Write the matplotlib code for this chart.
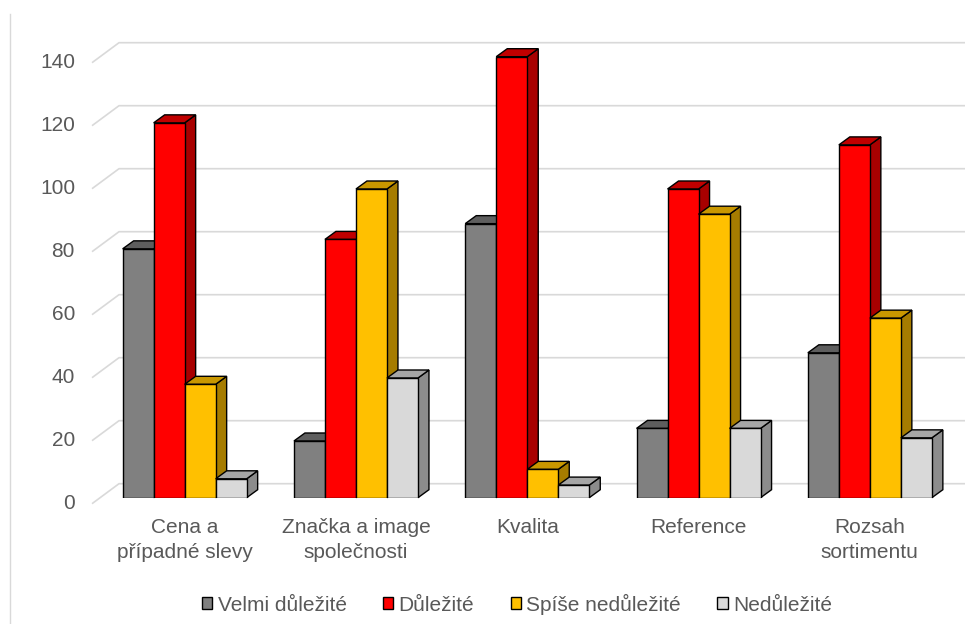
import matplotlib
matplotlib.use("Agg")
import matplotlib.pyplot as plt
from matplotlib.patches import Polygon, Patch
from matplotlib.lines import Line2D

# ---- data -------------------------------------------------------------
categories = ["Cena a\npřípadné slevy", "Značka a image\nspolečnosti", "Kvalita",
              "Reference", "Rozsah\nsortimentu"]
series_names = ["Velmi důležité", "Důležité", "Spíše nedůležité", "Nedůležité"]
velmi_dulezite = [79, 18, 87, 22, 46]
dulezite = [119, 82, 140, 98, 112]
spise_nedulezite = [36, 98, 9, 90, 57]
nedulezite = [6, 38, 4, 22, 19]
y_ticks = [0, 20, 40, 60, 80, 100, 120, 140]

series_values = [velmi_dulezite, dulezite, spise_nedulezite, nedulezite]

# ---- style ------------------------------------------------------------
front_colors = ["#808080", "#FF0000", "#FFC000", "#D9D9D9"]
top_colors = ["#5E5E5E", "#C00000", "#C99700", "#A6A6A6"]
side_colors = ["#595959", "#A80000", "#A67C00", "#8C8C8C"]
text_color = "#595959"
grid_color = "#D9D9D9"
font_size = 15

plt.rcParams['font.family'] = ['Liberation Sans', 'DejaVu Sans']

W, H, DPI = 965, 624, 100
fig = plt.figure(figsize=(W / DPI, H / DPI), dpi=DPI)
fig.patch.set_facecolor("white")

# axes = front plane of the bars (pixel geometry, measured from top-left)
left_px, right_px = 99.0, 955.5
bottom_px, top_px = 497.7, 56.7
ax = fig.add_axes([left_px / W, 1 - bottom_px / H,
                   (right_px - left_px) / W, (bottom_px - top_px) / H])
n_cat = len(categories)
ax.set_xlim(-0.5, n_cat - 0.5)
ax.set_ylim(0, 140)
for s in ax.spines.values():
    s.set_visible(False)
ax.set_yticks([])

px_x = (right_px - left_px) / n_cat      # pixels per category unit
px_y = (bottom_px - top_px) / 140.0      # pixels per value unit


def dx(p):
    return p / px_x


def dy(p):
    return p / px_y


# ---- back wall grid with floor diagonals --------------------------------
x_left = -0.5
x_right = n_cat - 0.5
for v in y_ticks:
    xs = [x_left + dx(-7), x_left + dx(20), x_right + dx(40)]
    ys = [v + dy(-6), v + dy(14), v + dy(14)]
    ax.plot(xs, ys, color=grid_color, lw=1.2, clip_on=False, zorder=0,
            solid_capstyle="butt")
    ax.text(x_left + dx(-24), v + dy(-6), str(v), ha="right", va="center",
            color=text_color, fontsize=font_size)

# ---- 3D-style columns ---------------------------------------------------
bar_w = 0.181
depth_x, depth_y = dx(11), dy(8)
x_pos = list(range(n_cat))
for k, vals in enumerate(series_values):
    offs = (k - 1.5) * bar_w
    xk = [x + offs for x in x_pos]
    ax.bar(xk, vals, width=bar_w, color=front_colors[k], edgecolor="black",
           linewidth=1.0, zorder=3 + 2 * k)
    for xc, v in zip(xk, vals):
        x0, x1 = xc - bar_w / 2, xc + bar_w / 2
        side = Polygon([(x1, 0), (x1 + depth_x, depth_y),
                        (x1 + depth_x, v + depth_y), (x1, v)],
                       closed=True, facecolor=side_colors[k],
                       edgecolor="black", linewidth=1.0, zorder=2 + 2 * k,
                       clip_on=False)
        top = Polygon([(x0, v), (x1, v), (x1 + depth_x, v + depth_y),
                       (x0 + depth_x, v + depth_y)],
                      closed=True, facecolor=top_colors[k],
                      edgecolor="black", linewidth=1.0, zorder=2 + 2 * k,
                      clip_on=False, joinstyle="miter")
        ax.add_patch(side)
        ax.add_patch(top)

# ---- category labels ------------------------------------------------------
ax.set_xticks(x_pos)
ax.set_xticklabels(categories)
ax.tick_params(axis="x", length=0, pad=14.5, labelsize=font_size,
               labelcolor=text_color)
for lbl in ax.get_xticklabels():
    lbl.set_linespacing(1.4)

# ---- legend ---------------------------------------------------------------
handles = [Patch(facecolor=front_colors[k], edgecolor="black", linewidth=1.0)
           for k in range(len(series_names))]
fig.legend(handles, series_names, loc="center",
           bbox_to_anchor=(517 / W, 1 - 604 / H), ncol=4, frameon=False,
           fontsize=font_size, labelcolor=text_color, handlelength=0.5,
           handleheight=0.5, handletextpad=0.25, columnspacing=1.75,
           borderaxespad=0, borderpad=0)

# chart area border on the left
fig.add_artist(Line2D([9.5 / W, 9.5 / W], [0, 1 - 14 / H], color=grid_color,
                      lw=1.0, transform=fig.transFigure))

fig.savefig("out.png", dpi=DPI)
